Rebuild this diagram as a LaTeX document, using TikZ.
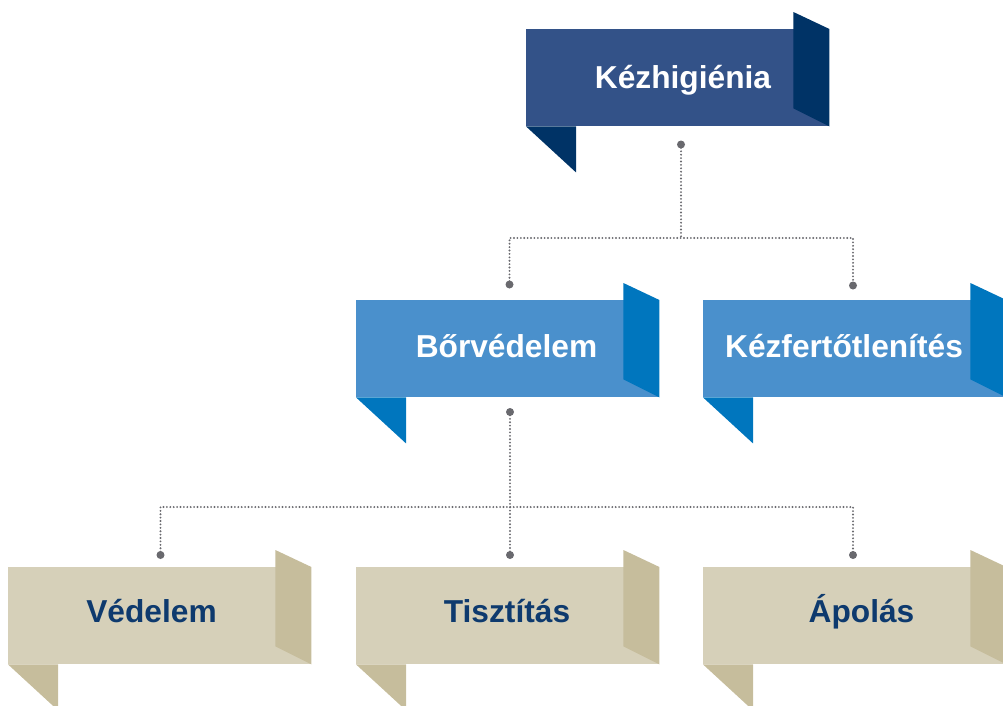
\documentclass[tikz,border=0pt]{standalone}
\usepackage{fontspec}
\setmainfont{Liberation Sans}
\definecolor{topfill}{RGB}{51,82,136}
\definecolor{topflap}{RGB}{0,51,102}
\definecolor{midfill}{RGB}{74,144,204}
\definecolor{midflap}{RGB}{0,118,190}
\definecolor{lowfill}{RGB}{214,208,185}
\definecolor{lowflap}{RGB}{198,189,156}
\definecolor{lowtext}{RGB}{14,58,110}
\definecolor{conn}{RGB}{105,105,110}
\newcommand\ribbonbox[5]{% name, x, y, fill, flap
  \node[rectangle, fill=#4, minimum width=303pt, minimum height=97pt, inner sep=0pt, anchor=north west] (#1) at (#2,#3) {};
  \fill[#5] ([xshift=-36pt,yshift=17pt]#1.north east) -- (#1.north east) -- (#1.south east) -- ([xshift=-36pt,yshift=18pt]#1.south east) -- cycle;
  \fill[#5] (#1.south west) -- ([xshift=50pt]#1.south west) -- ([xshift=50pt,yshift=-46pt]#1.south west) -- cycle;
}
\begin{document}
\begin{tikzpicture}[x=1pt,y=-1pt,
  lbl/.style={font=\fontsize{31.7}{36}\selectfont\bfseries, inner sep=0pt, anchor=base},
  dotline/.style={draw=conn, line width=2.1pt, line cap=round, dash pattern=on 0pt off 3.4pt},
  enddot/.style={circle, fill=conn, inner sep=0pt, minimum size=8pt}]
\useasboundingbox (0,0) rectangle (1003,705);
\clip (0,0) rectangle (1003,705);

% ribbons
\ribbonbox{top}{526}{29}{topfill}{topflap}
\ribbonbox{bor}{356}{300}{midfill}{midflap}
\ribbonbox{kez}{703}{300}{midfill}{midflap}
\ribbonbox{ved}{8}{567}{lowfill}{lowflap}
\ribbonbox{tis}{356}{567}{lowfill}{lowflap}
\ribbonbox{apo}{703}{567}{lowfill}{lowflap}

% labels
\node[lbl, text=white] (topt) at (683,88) {Kézhigiénia};
\node[lbl, text=white] (bort) at (506.5,357) {Bőrvédelem};
\node[lbl, text=white] (kezt) at (844,357) {Kézfertőtlenítés};
\node[lbl, text=lowtext] (vedt) at (151.5,622) {Védelem};
\node[lbl, text=lowtext] (tist) at (507,622) {Tisztítás};
\node[lbl, text=lowtext] (apot) at (861.5,622) {Ápolás};

% connector end dots
\node[enddot] (d0) at (681,144.5) {};
\node[enddot] (d1) at (509.5,284.5) {};
\node[enddot] (d2) at (853,285.5) {};
\node[enddot] (d3) at (510,412) {};
\node[enddot] (d4) at (160.5,555) {};
\node[enddot] (d5) at (510,555) {};
\node[enddot] (d6) at (853,555) {};
\coordinate (j1) at (681,238);
\coordinate (j2) at (510,507);

% connectors
\draw[dotline] (d0.center) -- (j1);
\draw[dotline] (d1.center) -- (d1 |- j1) -- (d2 |- j1) -- (d2.center);
\draw[dotline] (d3.center) -- (j2) -- (d5.center);
\draw[dotline] (d4.center) -- (d4 |- j2) -- (d6 |- j2) -- (d6.center);
\end{tikzpicture}
\end{document}
